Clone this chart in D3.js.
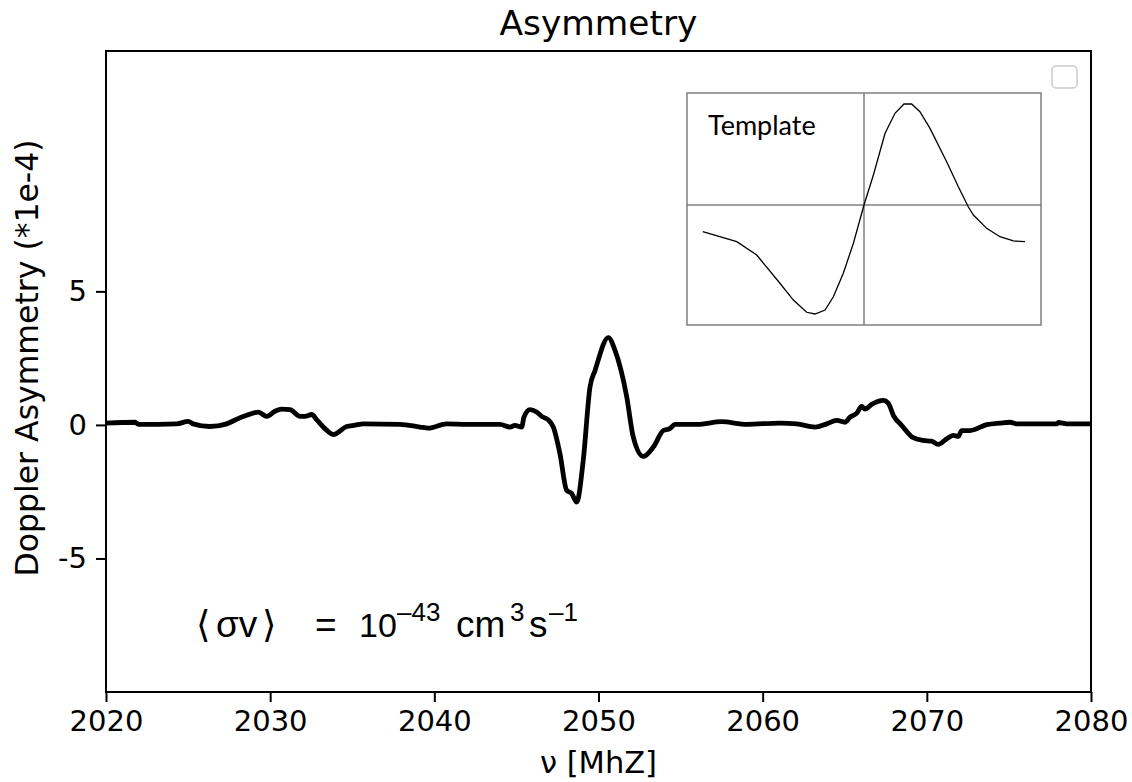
<!DOCTYPE html>
<html>
<head>
<meta charset="utf-8">
<script src="https://cdn.jsdelivr.net/npm/d3@7"></script>
<style>
  html, body { margin: 0; padding: 0; background: #fff; }
  svg { display: block; }
  text { font-family: "DejaVu Sans", sans-serif; fill: #000; }
</style>
</head>
<body>
<svg id="chart" width="1132" height="782"></svg>
<script>
// Doppler asymmetry spectrum (units of 1e-4)
const freq = [2020.0, 2021.77, 2021.97, 2024.31, 2025.01, 2025.31, 2026.33, 2027.35, 2028.16, 2028.57,
  2029.28, 2029.79, 2030.29, 2030.70, 2031.21, 2031.82, 2032.12, 2032.53, 2032.84, 2033.34,
  2033.85, 2034.66, 2035.17, 2035.67, 2037.91, 2039.13, 2039.63, 2040.75, 2041.97, 2044.0,
  2044.61, 2044.91, 2045.32, 2045.46, 2045.83, 2046.23, 2046.54, 2046.94, 2047.25, 2047.65,
  2048.06, 2048.37, 2048.67, 2049.07, 2049.48, 2049.79, 2050.60, 2051.00, 2051.72, 2052.12,
  2052.73, 2053.34, 2053.95, 2054.35, 2054.66, 2056.00, 2057.50, 2059.03, 2061.05, 2062.07,
  2063.19, 2063.90, 2064.51, 2065.02, 2065.32, 2065.73, 2066.03, 2066.23, 2066.64, 2067.35,
  2067.65, 2067.96, 2068.47, 2069.17, 2069.78, 2070.29, 2070.69, 2071.21, 2071.61, 2071.92,
  2072.12, 2072.63, 2073.65, 2074.46, 2075.07, 2075.47, 2077.91, 2078.01, 2078.52, 2080.0];
const asym = [0.07, 0.10, 0.02, 0.04, 0.13, 0.04, -0.06, 0.04, 0.27, 0.36,
  0.48, 0.32, 0.51, 0.59, 0.57, 0.32, 0.32, 0.39, 0.19, -0.14,
  -0.36, -0.06, -0.01, 0.04, 0.02, -0.08, -0.12, 0.04, 0.02, 0.02,
  -0.08, -0.02, -0.08, 0.29, 0.57, 0.48, 0.32, 0.19, -0.08, -1.07,
  -2.45, -2.57, -2.89, -1.33, 1.41, 2.04, 3.27, 2.80, 1.05, -0.46,
  -1.18, -0.83, -0.21, -0.14, 0.02, 0.02, 0.12, 0.02, 0.07, 0.04,
  -0.08, 0.04, 0.17, 0.10, 0.29, 0.44, 0.69, 0.59, 0.77, 0.92,
  0.82, 0.36, -0.02, -0.48, -0.58, -0.61, -0.73, -0.52, -0.39, -0.43,
  -0.21, -0.21, 0.01, 0.07, 0.10, 0.04, 0.04, 0.09, 0.04, 0.04];

// Template shape for the inset (normalised units)
const tplX = [-0.911, -0.719, -0.606, -0.475, -0.399, -0.324, -0.277, -0.220, -0.173, -0.117,
  -0.060, 0.0, 0.053, 0.119, 0.175, 0.226, 0.269, 0.316, 0.373, 0.467,
  0.533, 0.589, 0.618, 0.693, 0.768, 0.844, 0.910];
const tplY = [-0.264, -0.363, -0.495, -0.775, -0.941, -1.062, -1.079, -1.040, -0.908, -0.676,
  -0.379, 0.0, 0.297, 0.710, 0.908, 1.0, 1.0, 0.924, 0.759, 0.429,
  0.181, -0.017, -0.099, -0.231, -0.314, -0.356, -0.363];

const xTicks = [2020, 2030, 2040, 2050, 2060, 2070, 2080];
const yTicks = [-5, 0, 5];

const svg = d3.select("#chart");
const m = { left: 106, right: 1091, top: 51, bottom: 692 };

const x = d3.scaleLinear().domain([2020, 2080]).range([m.left, m.right]);
const y = d3.scaleLinear().domain([-10, 14]).range([m.bottom, m.top]);

// axes
const xAxis = svg.append("g")
  .attr("transform", `translate(0,${m.bottom})`)
  .call(d3.axisBottom(x).tickValues(xTicks).tickFormat(d3.format("d")).tickSize(10).tickPadding(8));
const yAxis = svg.append("g")
  .attr("transform", `translate(${m.left},0)`)
  .call(d3.axisLeft(y).tickValues(yTicks).tickFormat(d => String(d)).tickSize(10).tickPadding(9));
[xAxis, yAxis].forEach(g => {
  g.select(".domain").remove();
  g.selectAll(".tick line").attr("stroke", "#000").attr("stroke-width", 2);
  g.selectAll(".tick text").style("font-size", "29px").style("font-family", "DejaVu Sans").attr("fill", "#000");
});

// frame
svg.append("rect")
  .attr("x", m.left).attr("y", m.top)
  .attr("width", m.right - m.left).attr("height", m.bottom - m.top)
  .attr("fill", "none").attr("stroke", "#000").attr("stroke-width", 2);

// main trace
const pts = freq.map((f, i) => [f, asym[i]]);
svg.append("path")
  .datum(pts)
  .attr("fill", "none")
  .attr("stroke", "#000")
  .attr("stroke-width", 4.8)
  .attr("stroke-linejoin", "round")
  .attr("d", d3.line().x(d => x(d[0])).y(d => y(d[1])).curve(d3.curveMonotoneX));

// empty legend frame
svg.append("rect")
  .attr("x", 1052).attr("y", 66).attr("width", 25).attr("height", 22)
  .attr("rx", 4).attr("fill", "#fff").attr("stroke", "#cccccc").attr("stroke-width", 1.5);

// inset with template
const ins = { left: 687, right: 1041, top: 93, bottom: 325 };
const ix = d3.scaleLinear().domain([-1, 1]).range([ins.left, ins.right]);
const iy = d3.scaleLinear().domain([-1.188, 1.109]).range([ins.bottom, ins.top]);
const inset = svg.append("g");
inset.append("rect")
  .attr("x", ins.left).attr("y", ins.top)
  .attr("width", ins.right - ins.left).attr("height", ins.bottom - ins.top)
  .attr("fill", "#fff").attr("stroke", "#808080").attr("stroke-width", 1.5);
inset.append("line")
  .attr("x1", ix(-1)).attr("x2", ix(1)).attr("y1", iy(0)).attr("y2", iy(0))
  .attr("stroke", "#808080").attr("stroke-width", 1.5);
inset.append("line")
  .attr("x1", ix(0)).attr("x2", ix(0)).attr("y1", iy(-1.188)).attr("y2", iy(1.109))
  .attr("stroke", "#808080").attr("stroke-width", 1.5);
inset.append("path")
  .datum(tplX.map((v, i) => [v, tplY[i]]))
  .attr("fill", "none").attr("stroke", "#000").attr("stroke-width", 1.3)
  .attr("d", d3.line().x(d => ix(d[0])).y(d => iy(d[1])));
inset.append("text")
  .attr("x", 708).attr("y", 135)
  .style("font-family", "Lato, 'Open Sans', sans-serif")
  .style("font-size", "27px")
  .text("Template");

// titles
svg.append("text")
  .attr("x", (m.left + m.right) / 2).attr("y", 35)
  .attr("text-anchor", "middle").style("font-size", "34.4px")
  .text("Asymmetry");
svg.append("text")
  .attr("x", (m.left + m.right) / 2).attr("y", 773)
  .attr("text-anchor", "middle").style("font-size", "30.5px")
  .text("ν [MhZ]");
svg.append("text")
  .attr("transform", `translate(38,358) rotate(-90)`)
  .attr("text-anchor", "middle").style("font-size", "31.5px")
  .text("Doppler Asymmetry (*1e-4)");

// rate annotation
const ann = svg.append("text")
  .attr("y", 637)
  .style("font-family", "'Liberation Sans', Arial, sans-serif")
  .style("font-size", "37px");
const base = 637, sup = 621;
ann.append("tspan").attr("x", 196).attr("y", base).text("\u27E8");
ann.append("tspan").attr("x", 216).attr("y", base).text("σv");
ann.append("tspan").attr("x", 262).attr("y", base).text("\u27E9");
ann.append("tspan").attr("x", 315).attr("y", base).text("=");
ann.append("tspan").attr("x", 359).attr("y", base).style("font-size", "34px").text("10");
ann.append("tspan").attr("x", 397).attr("y", sup).style("font-size", "26px").text("\u201343");
ann.append("tspan").attr("x", 456).attr("y", base).text("cm");
ann.append("tspan").attr("x", 510).attr("y", sup).style("font-size", "26px").text("3");
ann.append("tspan").attr("x", 529).attr("y", base).text("s");
ann.append("tspan").attr("x", 549).attr("y", sup).style("font-size", "26px").text("\u20131");
</script>
</body>
</html>
